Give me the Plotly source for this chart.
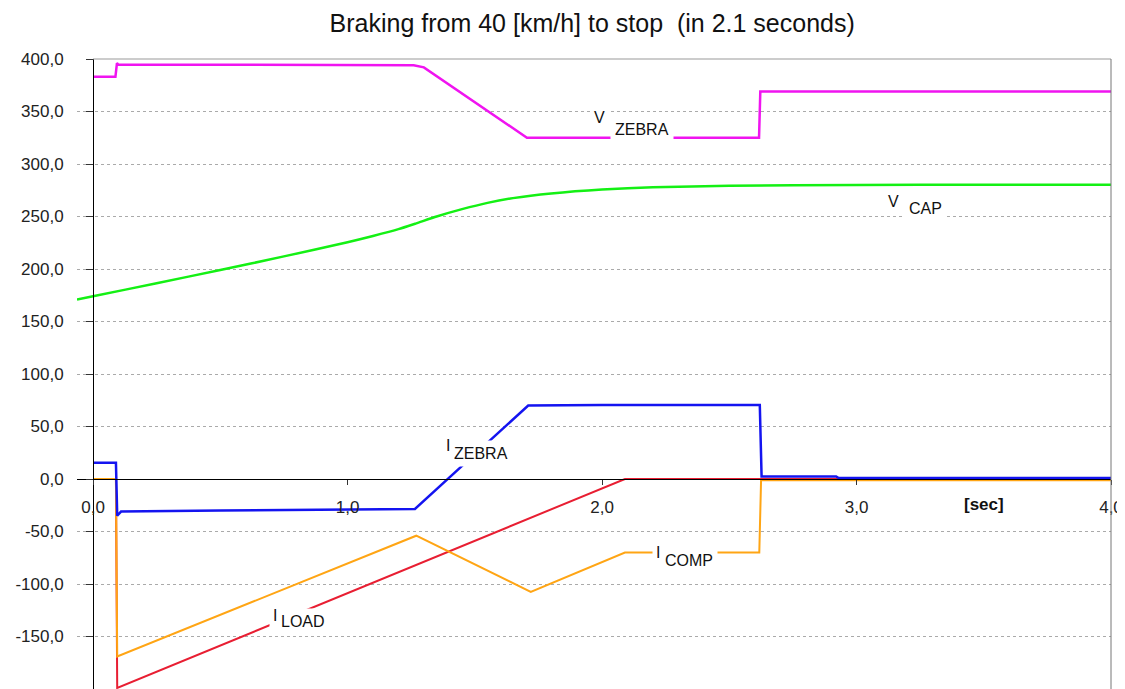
import plotly.graph_objects as go

# ---- data (time in seconds) ----
t_vzebra = [0.0, 0.088, 0.094, 0.10, 0.5, 1.0, 1.26, 1.30, 1.705, 2.0, 2.617, 2.622, 3.0, 3.5, 4.0]
v_vzebra = [383, 383, 396, 394.5, 394.5, 394.5, 394, 392, 325, 325, 325, 369, 369, 369, 369]

t_vcap = [-0.063, 0.0, 0.25, 0.5, 0.75, 1.0, 1.1, 1.2, 1.27, 1.35, 1.45, 1.55, 1.65, 1.8, 2.0, 2.2, 2.5, 3.0, 3.5, 4.0]
v_vcap = [171, 174, 186.5, 199, 212, 225.5, 231.5, 238, 243.5, 250, 257, 263, 267.5, 272, 275.8, 277.8, 279.2, 280, 280.3, 280.3]

t_izebra = [0.0, 0.09, 0.095, 0.11, 0.5, 1.0, 1.265, 1.71, 2.0, 2.62, 2.627, 2.92, 2.93, 4.0]
i_izebra = [15.5, 15.5, -35, -31, -30, -29, -28.5, 70, 70.5, 70.5, 2.5, 2.5, 1, 1]

t_icomp = [0.0, 0.09, 0.095, 1.27, 1.72, 2.09, 2.618, 2.625, 3.0, 4.0]
i_icomp = [0, 0, -169, -54, -107.5, -70, -70, -1.3, -1.3, -1.3]

t_iload = [0.0, 0.09, 0.095, 2.09, 3.0, 4.0]
i_iload = [0, 0, -199, 0, 0, 0]

y_tickvals = list(range(-200, 401, 50))
y_ticktext = [f"{v},0" for v in y_tickvals]
x_tickvals = [0, 1, 2, 3, 4]
x_ticktext = ["0,0", "1,0", "2,0", "3,0", "4,0"]

title_text = "Braking from 40 [km/h] to stop \u00a0(in 2.1 seconds)"
FONT = "Liberation Sans, Arial, sans-serif"

X0, X1 = -0.063, 4.0
Y0, Y1 = -200, 400
yaxis_pos = (0 - X0) / (X1 - X0)
xaxis_pos = (0 - Y0) / (Y1 - Y0)

fig = go.Figure()
fig.add_trace(go.Scatter(x=t_iload, y=i_iload, mode="lines", line=dict(color="#E81E32", width=2), name="I LOAD"))
fig.add_trace(go.Scatter(x=t_icomp, y=i_icomp, mode="lines", line=dict(color="#FFA514", width=2), name="I COMP"))
fig.add_trace(go.Scatter(x=t_izebra, y=i_izebra, mode="lines", line=dict(color="#1414F0", width=2.5), name="I ZEBRA"))
fig.add_trace(go.Scatter(x=t_vcap, y=v_vcap, mode="lines", line=dict(color="#14F014", width=2.5, shape="spline", smoothing=0.5), name="V CAP"))
fig.add_trace(go.Scatter(x=t_vzebra, y=v_vzebra, mode="lines", line=dict(color="#F014F0", width=2.5), name="V ZEBRA"))

# labels: (main letter x, y), (subscript x, y)
labels = [
    ("V", (1.965, 344), "ZEBRA", (2.043, 332.6)),
    ("V", (3.12, 264.4), "CAP", (3.198, 258)),
    ("I", (1.383, 32), "ZEBRA", (1.411, 24.1)),
    ("I", (2.208, -70.2), "COMP", (2.24, -77.3)),
    ("I", (0.703, -130.2), "LOAD", (0.731, -135.9)),
]
for main, (mx, my), sub, (sx, sy) in labels:
    fig.add_annotation(x=sx, y=sy, xref="x", yref="y", showarrow=False, text=sub,
                       xanchor="left", yanchor="middle", xshift=-3,
                       font=dict(family=FONT, size=16, color="#111"),
                       bgcolor="white", borderpad=4)
for main, (mx, my), sub, (sx, sy) in labels:
    fig.add_annotation(x=mx, y=my, xref="x", yref="y", showarrow=False, text=main,
                       xanchor="left", yanchor="middle", xshift=-3,
                       font=dict(family=FONT, size=16, color="#111"),
                       bgcolor="white", borderpad=3)

fig.add_annotation(x=3.5, y=-24, xref="x", yref="y", showarrow=False,
                   text="<b>[sec]</b>", font=dict(family=FONT, size=17, color="#111"))

# mask gridlines left of the y axis, frame lines
fig.add_shape(type="rect", xref="paper", yref="paper", x0=0, x1=yaxis_pos, y0=0, y1=1,
              fillcolor="white", line=dict(width=0), layer="between")
fig.add_shape(type="line", xref="paper", yref="paper", x0=yaxis_pos, x1=1, y0=1, y1=1,
              line=dict(color="#999", width=1))
fig.add_shape(type="line", xref="paper", yref="paper", x0=1, x1=1, y0=0, y1=1,
              line=dict(color="#777", width=1))

fig.update_layout(
    width=1117, height=681,
    margin=dict(l=69, r=14, t=51, b=0),
    paper_bgcolor="white", plot_bgcolor="white",
    showlegend=False,
    font=dict(family=FONT, size=17, color="#222"),
    title=dict(text=title_text, xref="container", x=0.523, xanchor="center",
               y=0.978, yanchor="middle", font=dict(family=FONT, size=25, color="#111")),
    xaxis=dict(range=[X0, X1], anchor="free", position=xaxis_pos,
               tickmode="array", tickvals=x_tickvals, ticktext=x_ticktext,
               showgrid=False, zeroline=False, showline=True, linecolor="black", linewidth=1,
               ticks="outside", ticklen=5, tickcolor="#333", ticklabelstandoff=8,
               tickfont=dict(size=17, color="#222")),
    yaxis=dict(range=[Y0, Y1], anchor="free", position=yaxis_pos,
               tickmode="array", tickvals=y_tickvals, ticktext=y_ticktext,
               showgrid=True, gridcolor="#aaa", griddash="dot", gridwidth=1,
               zeroline=False, showline=True, linecolor="black", linewidth=1,
               ticks="outside", ticklen=7, tickcolor="#333", ticklabelstandoff=19,
               tickfont=dict(size=17, color="#222")),
)

fig.write_html("out.html")
